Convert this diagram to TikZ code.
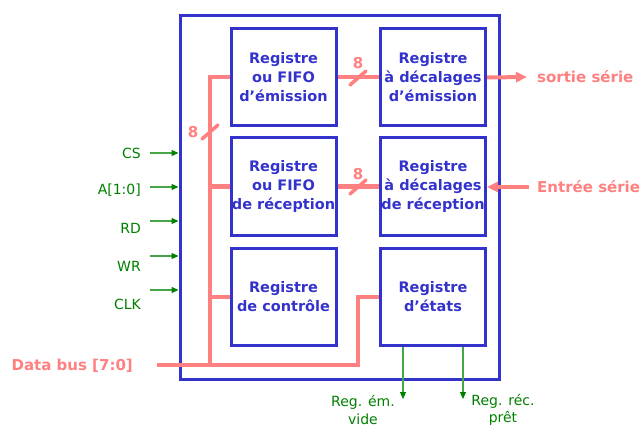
\documentclass[tikz,border=0pt]{standalone}
\usepackage{fontspec}
\setmainfont{DejaVu Sans}
\usetikzlibrary{arrows.meta, positioning}

\definecolor{regblue}{RGB}{51,51,204}
\definecolor{buspink}{RGB}{255,128,128}
\definecolor{ctlgreen}{RGB}{0,128,0}
\definecolor{wiregreen}{RGB}{70,165,70}

\tikzset{
  reg/.style={draw=regblue, line width=3pt, minimum width=105pt, minimum height=97pt,
    inner sep=0pt, align=center, text=regblue, font=\fontsize{14.5}{19}\selectfont\bfseries},
  bus/.style={draw=buspink, line width=4pt},
  busarrow/.style={bus, -{Triangle[length=11pt,width=10pt]}},
  buslabel/.style={text=buspink, font=\fontsize{15}{19}\selectfont\bfseries, inner sep=0pt},
  ctl/.style={draw=wiregreen, line width=1.2pt, -{Triangle[length=7pt,width=6pt,color=ctlgreen]}},
  ctllabel/.style={text=ctlgreen, font=\fontsize{14}{17.5}\selectfont, inner sep=0pt, align=center}
}

\begin{document}
\begin{tikzpicture}[x=1pt, y=-1pt]
    \useasboundingbox (0,0) rectangle (641,428);

    % Outer box
    \node[draw=regblue, line width=3pt, minimum width=319pt, minimum height=363pt, inner sep=0pt] (uart) at (339.5,197.5) {};

    % Registers
    \node[reg] (txfifo) at (283.5,77.5) {Registre\\ou FIFO\\d’émission};
    \node[reg] (txshift) at (433,77.5) {Registre\\à décalages\\d’émission};
    \node[reg] (rxfifo) at (283.5,186.5) {Registre\\ou FIFO\\de réception};
    \node[reg] (rxshift) at (433,186.5) {Registre\\à décalages\\de réception};
    \node[reg] (ctrl) at (283.5,296.5) {Registre\\de contrôle};
    \node[reg] (status) at (433,296.5) {Registre\\d’états};

    % Data bus
    \node[buslabel, anchor=east] (dbus) at (133,366) {Data bus [7:0]};
    \coordinate (busin) at (157,365);
    \coordinate (busjoin) at (210,365);
    \draw[bus] (busin) -- (358,365) |- (status.west);
    \draw[bus] (busjoin) |- (txfifo.west);
    \draw[bus] (busjoin |- rxfifo.west) -- (rxfifo.west);
    \draw[bus] (busjoin |- ctrl.west) -- (ctrl.west);

    % Parallel links
    \draw[bus] (txfifo.east) -- (txshift.west);
    \draw[bus] (rxfifo.east) -- (rxshift.west);

    % Bus widths
    \foreach \sx/\sy/\lx/\ly [count=\i] in {210/132/193/132, 358/78/358/63, 358/187/358/174} {
      \draw[draw=buspink, line width=3.5pt, line cap=round] (\sx-8,\sy+7) -- (\sx+8,\sy-7);
      \node[buslabel] (w\i) at (\lx,\ly) {8};
    }

    % Serial lines
    \node[buslabel, anchor=west] (txout) at (537,77) {sortie série};
    \node[buslabel, anchor=west] (rxin) at (537,187) {Entrée série};
    \draw[busarrow] (txshift.east) -- (527,77);
    \coordinate (rxstart) at (529,187);
    \draw[busarrow] (rxstart) -- (rxshift.east |- rxstart);

    % Control inputs
    \foreach \name/\txt/\ay/\ty in {cs/CS/153/153, addr/A[1:0]/187/190, rd/RD/221/228, wr/WR/256/266, clk/CLK/290/304} {
      \node[ctllabel, anchor=east] (\name) at (141,\ty) {\txt};
      \coordinate (\name-in) at (150,\ay);
      \draw[ctl] (\name-in) -- (uart.west |- \name-in);
    }

    % Status outputs
    \coordinate (txempty) at (403,399);
    \coordinate (rxready) at (463,399);
    \draw[ctl] (status.south -| txempty) -- (txempty);
    \draw[ctl] (status.south -| rxready) -- (rxready);
    \node[ctllabel] (txemptyl) at (363,410) {Reg. ém.\\vide};
    \node[ctllabel] (rxreadyl) at (503,410) {Reg. réc.\\prêt};

\end{tikzpicture}
\end{document}
